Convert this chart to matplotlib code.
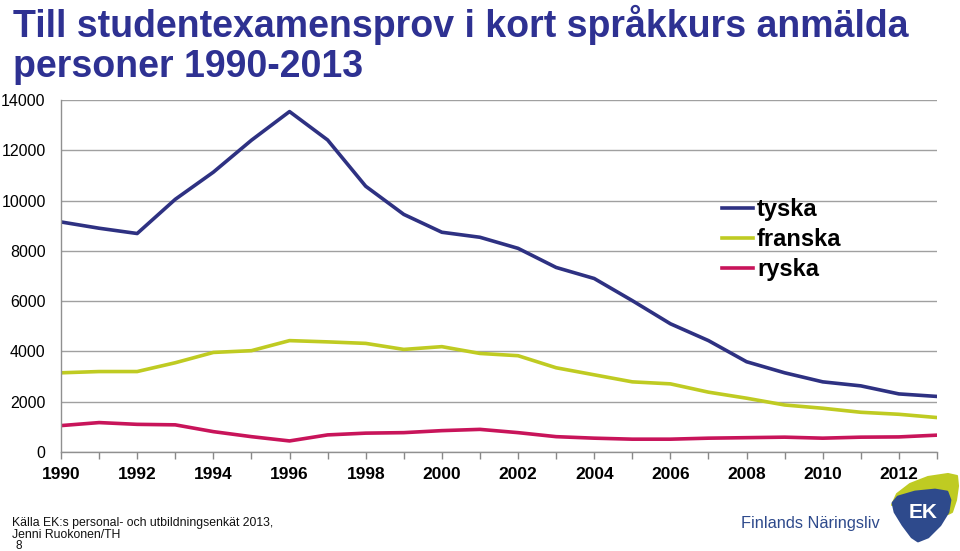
import matplotlib
matplotlib.use("Agg")
import matplotlib.pyplot as plt
from matplotlib.patches import Polygon

years = list(range(1990, 2014))
tyska = [9150, 8900, 8690, 10050, 11130, 12400, 13540, 12410, 10570, 9450, 8740, 8540,
         8100, 7340, 6900, 6020, 5100, 4430, 3590, 3150, 2790, 2630, 2310, 2210]
franska = [3150, 3200, 3200, 3550, 3960, 4030, 4430, 4380, 4320, 4080, 4190, 3920,
           3830, 3350, 3070, 2790, 2710, 2380, 2140, 1870, 1740, 1580, 1500, 1370]
ryska = [1050, 1170, 1100, 1080, 810, 610, 440, 680, 750, 770, 850, 900,
         770, 610, 550, 510, 510, 550, 570, 590, 550, 590, 600, 670]
series_names = ["tyska", "franska", "ryska"]
colors = ["#2E3182", "#BFCB22", "#C8145A"]
xtick_labels = [str(y) for y in range(1990, 2013, 2)]
yticks = list(range(0, 14001, 2000))

plt.rcParams['font.family'] = ['Liberation Sans', 'DejaVu Sans']

W, H = 960, 551
fig = plt.figure(figsize=(9.6, 5.51), dpi=100)
ax = fig.add_axes([61/W, 1-452/H, (937-61)/W, (452-100)/H])

for name, vals, c in zip(series_names, [tyska, franska, ryska], colors):
    ax.plot(years, vals, color=c, lw=2.6, label=name, solid_joinstyle='round')

ax.set_xlim(1990, 2013)
ax.set_ylim(0, 14000)
ax.set_yticks(yticks)
ax.set_yticklabels([str(v) for v in yticks], fontsize=11.5)
ax.set_xticks(range(1990, 2013, 2))
ax.set_xticklabels(xtick_labels, fontsize=12.5, fontweight='bold')
ax.set_xticks(years, minor=True)
ax.tick_params(axis='x', which='both', direction='out', length=5, color='#888888', width=1, pad=5.5)
ax.tick_params(axis='y', length=0, pad=11)
ax.grid(axis='y', color='#A0A0A0', lw=1)
ax.set_axisbelow(True)
for s in ['top', 'right']:
    ax.spines[s].set_visible(False)
for s in ['left', 'bottom']:
    ax.spines[s].set_color('#909090')
    ax.spines[s].set_linewidth(1)

leg = ax.legend(loc='upper left', bbox_to_anchor=((722-61)/876, (452-198)/352), frameon=False,
                prop={'weight': 'bold', 'size': 17}, handlelength=1.3, handletextpad=0.18,
                labelspacing=0.3, borderaxespad=0, borderpad=0)

title_color = '#2E3192'
fig.text(13/W, 1-37/H, "Till studentexamensprov i kort språkkurs anmälda",
         fontsize=27, fontweight='bold', color=title_color, va='baseline')
fig.text(13/W, 1-77/H, "personer 1990-2013",
         fontsize=27, fontweight='bold', color=title_color, va='baseline')

fig.text(12/W, 1-526/H, "Källa EK:s personal- och utbildningsenkät 2013,",
         fontsize=8.8, color='#111111', va='baseline')
fig.text(12/W, 1-538/H, "Jenni Ruokonen/TH", fontsize=8.8, color='#111111', va='baseline')
fig.text(15/W, 1-549/H, "8", fontsize=8.5, color='#111111', va='baseline')
fig.text(741/W, 1-528/H, "Finlands Näringsliv", fontsize=11.8, color='#2E4A8C', va='baseline')

# EK logo
lax = fig.add_axes([0, 0, 1, 1])
lax.set_xlim(0, W)
lax.set_ylim(H, 0)
lax.axis('off')
lax.patch.set_alpha(0)
green = [(892, 505), (897, 494), (910, 484), (928, 477), (948, 474), (957, 476), (958, 486),
         (956, 500), (952, 512), (948, 514), (950, 500), (947, 492), (935, 490), (915, 492),
         (898, 497)]
blue = [(893, 503), (898, 497), (915, 492), (935, 490), (947, 492), (950, 500), (948, 512),
        (940, 525), (928, 537), (918, 541), (912, 537), (903, 525), (895, 512)]
lax.add_patch(Polygon(green, closed=True, facecolor='#BFCB22', edgecolor='#BFCB22',
                      lw=1.5, joinstyle='round'))
lax.add_patch(Polygon(blue, closed=True, facecolor='#2E4A8C', edgecolor='#2E4A8C',
                      lw=2, joinstyle='round'))
lax.text(923, 513, "EK", color='white', fontsize=15, fontweight='bold', ha='center', va='center')

fig.savefig("out.png", dpi=100)
